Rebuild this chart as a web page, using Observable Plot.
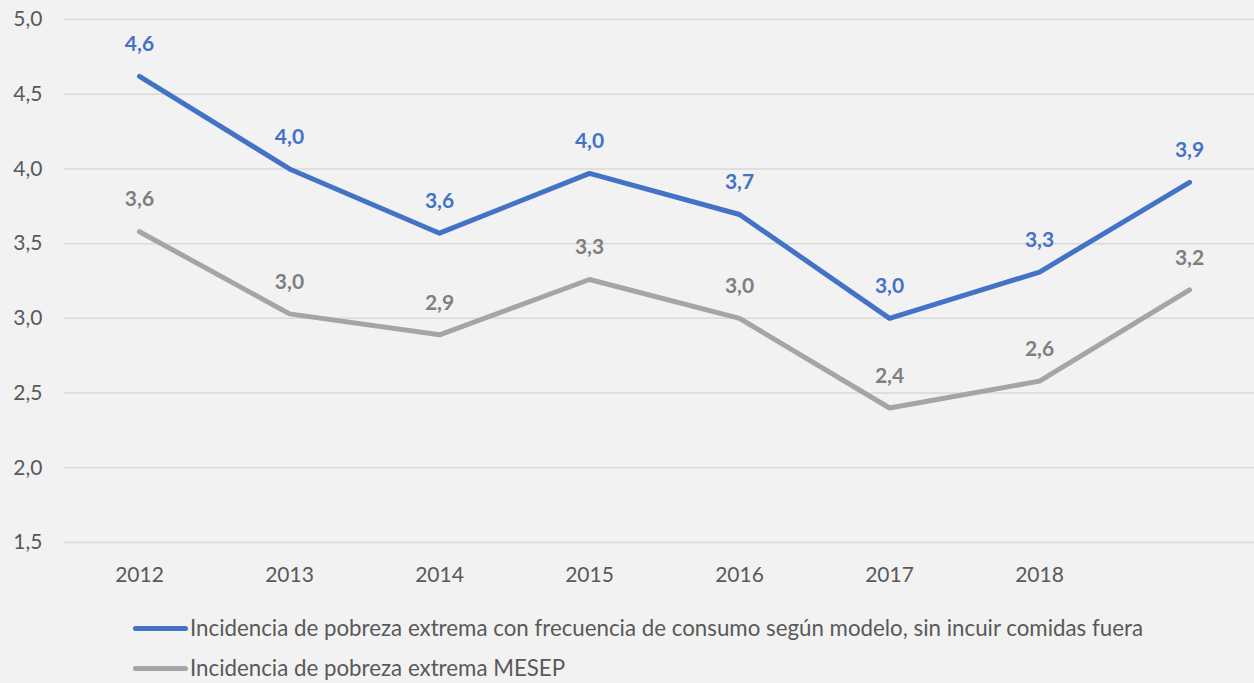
<!DOCTYPE html>
<html><head><meta charset="utf-8">
<script src="https://cdn.jsdelivr.net/npm/d3@7"></script>
<script src="https://cdn.jsdelivr.net/npm/@observablehq/plot@0.6"></script>
<style>
html,body{margin:0;padding:0;background:#f2f2f2;}
#wrap{width:1254px;height:683px;position:relative;overflow:hidden;font-family:Lato,"Open Sans",sans-serif;}
.leg{position:absolute;left:133px;display:flex;align-items:center;font-size:22.3px;line-height:26px;color:#595959;white-space:nowrap;}
.leg span.sw{display:inline-block;width:55px;height:5px;border-radius:3px;margin-right:2px;}
</style></head>
<body><div id="wrap"><div id="chart"></div>
<div class="leg" style="top:615px"><span class="sw" style="background:#4472C4"></span>Incidencia de pobreza extrema con frecuencia de consumo según modelo, sin incuir comidas fuera</div>
<div class="leg" style="top:655px"><span class="sw" style="background:#A5A5A5"></span>Incidencia de pobreza extrema MESEP</div>
</div>
<script>
const categories = ["2012","2013","2014","2015","2016","2017","2018",""];
const modelo = [4.62, 4.00, 3.57, 3.97, 3.695, 3.00, 3.31, 3.91];
const mesep  = [3.58, 3.03, 2.89, 3.26, 3.00, 2.40, 2.58, 3.19];
const yTicks = [1.5, 2.0, 2.5, 3.0, 3.5, 4.0, 4.5, 5.0];

const fmt = v => v.toFixed(1).replace(".", ",");
const idx = categories.map((_, i) => i);
const dModelo = idx.map(i => ({i, v: modelo[i]}));
const dMesep = idx.map(i => ({i, v: mesep[i]}));
const BLUE = "#4472C4", GRAY = "#A5A5A5";

const plot = Plot.plot({
  width: 1254, height: 600,
  marginLeft: 64, marginRight: 0, marginTop: 19, marginBottom: 58,
  style: {background: "transparent", fontFamily: "Lato, 'Open Sans', sans-serif"},
  x: {domain: [-0.5, 7.433], axis: null},
  y: {domain: [1.5, 5.0], axis: null},
  marks: [
    Plot.ruleY(yTicks, {stroke: "#d9d9d9", strokeWidth: 1.5}),
    Plot.text(yTicks, {x: -0.5, y: d => d, text: d => fmt(d), textAnchor: "end", dx: -22, fontSize: 21, fill: "#595959"}),
    Plot.text(idx, {x: d => d, y: 1.5, text: d => categories[d], dy: 33, fontSize: 21, fill: "#595959"}),
    Plot.line(dMesep, {x: "i", y: "v", stroke: GRAY, strokeWidth: 5, strokeLinecap: "round", strokeLinejoin: "round"}),
    Plot.line(dModelo, {x: "i", y: "v", stroke: BLUE, strokeWidth: 5, strokeLinecap: "round", strokeLinejoin: "round"}),
    Plot.text(dMesep, {x: "i", y: "v", text: d => fmt(d.v), dy: -32, fontSize: 21, fontWeight: "bold", fill: "#7f7f7f"}),
    Plot.text(dModelo, {x: "i", y: "v", text: d => fmt(d.v), dy: -32, fontSize: 21, fontWeight: "bold", fill: BLUE})
  ]
});
document.getElementById("chart").appendChild(plot);
</script></body></html>
